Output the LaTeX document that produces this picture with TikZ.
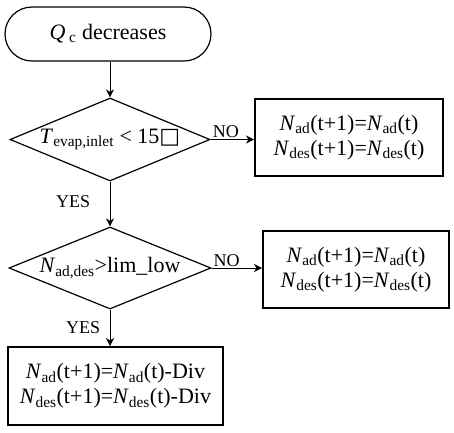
\documentclass[tikz,border=0pt]{standalone}
\usepackage{fontspec}
\setmainfont{Liberation Serif}
\newfontfamily\symfont{DejaVu Sans}
\usepackage{tikz}
\usetikzlibrary{arrows.meta,shapes}
\tikzstyle{startstop}=[draw,line width=1.2pt,rectangle,rounded corners=27pt,minimum width=206pt,minimum height=54pt,inner sep=0pt,font=\fontsize{22}{25}\selectfont]
\tikzstyle{decision}=[draw,line width=1.2pt,diamond,aspect=2.4,inner sep=0pt,font=\fontsize{22}{25}\selectfont]
\tikzstyle{process}=[draw,line width=2pt,rectangle,align=center,inner sep=0pt,font=\fontsize{22}{25}\selectfont]
\tikzstyle{flow} = [draw,line width=1pt,-{Stealth[length=8pt,width=8pt,inset=2.5pt]}]
\tikzstyle{answer} = [font=\fontsize{18}{20}\selectfont]
\newcommand{\Nsub}[1]{\textit{N}\textsubscript{#1}}

\begin{document}
\begin{tikzpicture}[x=1pt,y=-1pt]
\useasboundingbox (0,0) rectangle (454,432);

% start
\node[startstop] (start) at (108,34) {\textit{Q}\,\textsubscript{c} decreases};

% decisions
\node[decision,minimum width=200pt,minimum height=83pt] (temp) at (110,139.5) {\textit{T}\textsubscript{evap,inlet} < 15{\symfont □}};
\node[decision,minimum width=202pt,minimum height=82pt] (limit) at (110,268) {\Nsub{ad,des}>lim\_low};

% actions
\node[process,minimum width=188pt,minimum height=77pt] (keepA) at (349,137.5) {\Nsub{ad}(t+1)=\Nsub{ad}(t)\\\Nsub{des}(t+1)=\Nsub{des}(t)};
\node[process,minimum width=186pt,minimum height=77pt] (keepB) at (356,269.5) {\Nsub{ad}(t+1)=\Nsub{ad}(t)\\\Nsub{des}(t+1)=\Nsub{des}(t)};
\node[process,minimum width=215pt,minimum height=78pt] (reduce) at (115.5,386) {\Nsub{ad}(t+1)=\Nsub{ad}(t)-Div\\\Nsub{des}(t+1)=\Nsub{des}(t)-Div};

% connect
\path[flow] (start.south -| temp.north) -- (temp.north);
\foreach \source/\dest/\p in {temp/keepA/0.35, limit/keepB/0.3}
    \path[flow] (\source.east) -- node[answer,above,pos=\p,inner sep=1pt] {NO} (\source.east -| \dest.west);
\path[flow] (temp.south) -- node[answer,left=16pt,pos=0.45] {YES} (limit.north);
\path[flow] (limit.south) -- node[answer,left=6pt,pos=0.5] {YES} (limit.south |- reduce.north);

\end{tikzpicture}
\end{document}
